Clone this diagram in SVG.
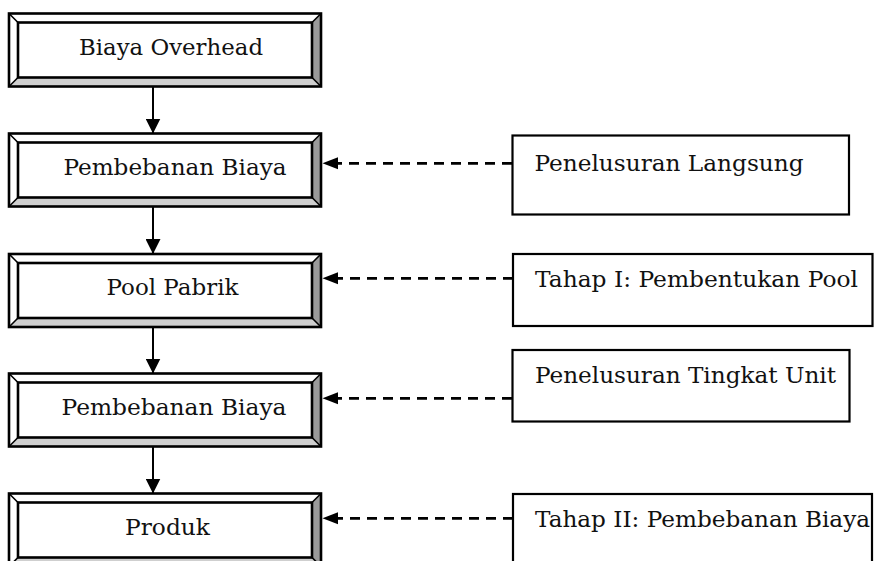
<svg xmlns="http://www.w3.org/2000/svg" xmlns:xlink="http://www.w3.org/1999/xlink" width="874" height="561" viewBox="0 0 874 561">
  <style>
    .lbl { font-family: "DejaVu Serif", "Liberation Serif", serif; font-size: 22px; fill: #111; }
    .note { fill: #fff; stroke: #000; stroke-width: 2.2; }
    .flow { stroke: #000; stroke-width: 2; fill: none; }
    .dash { stroke: #000; stroke-width: 2.8; stroke-dasharray: 10 7; fill: none; }
  </style>
  <defs>
    <!-- raised bevel frame, 312 x 73 -->
    <g id="bevel">
      <rect x="0" y="0" width="312" height="73" fill="#fff"/>
      <polygon points="0,73 312,73 303,64 9,64" fill="#cfcfcf"/>
      <polygon points="312,0 312,73 303,64 303,9" fill="#9a9a9a"/>
      <rect x="9" y="9" width="294" height="55" fill="#fff" stroke="#000" stroke-width="2.6"/>
      <g stroke="#000" stroke-width="1.6">
        <line x1="0" y1="0" x2="9" y2="9"/>
        <line x1="312" y1="0" x2="303" y2="9"/>
        <line x1="0" y1="73" x2="9" y2="64"/>
        <line x1="312" y1="73" x2="303" y2="64"/>
      </g>
      <rect x="0" y="0" width="312" height="73" fill="none" stroke="#000" stroke-width="2.6"/>
    </g>
    <marker id="head" viewBox="0 0 15 15" refX="15" refY="7.5" markerWidth="15" markerHeight="15" markerUnits="userSpaceOnUse" orient="auto">
      <path d="M0,0 L15,7.5 L0,15 Z" fill="#000"/>
    </marker>
  </defs>

  <!-- connectors -->
  <g id="connectors">
    <line class="flow" x1="153" y1="87" x2="153" y2="133.5" marker-end="url(#head)"/>
    <line class="flow" x1="153" y1="207" x2="153" y2="254" marker-end="url(#head)"/>
    <line class="flow" x1="153" y1="327" x2="153" y2="373.5" marker-end="url(#head)"/>
    <line class="flow" x1="153" y1="447" x2="153" y2="493.5" marker-end="url(#head)"/>
    <line class="dash" x1="512" y1="163.3" x2="336" y2="163.3"/>
    <polygon points="322.5,163.3 338,157.3 338,169.3" fill="#000"/>
    <line class="dash" x1="513" y1="278.3" x2="336" y2="278.3"/>
    <polygon points="322.5,278.3 338,272.3 338,284.3" fill="#000"/>
    <line class="dash" x1="512" y1="398.3" x2="336" y2="398.3"/>
    <polygon points="322.5,398.3 338,392.3 338,404.3" fill="#000"/>
    <line class="dash" x1="513" y1="518.3" x2="336" y2="518.3"/>
    <polygon points="322.5,518.3 338,512.3 338,524.3" fill="#000"/>
  </g>

  <!-- flow chain -->
  <g id="biaya-overhead">
    <use xlink:href="#bevel" x="9" y="13.5"/>
    <text class="lbl" x="79" y="55" textLength="184" lengthAdjust="spacingAndGlyphs">Biaya Overhead</text>
  </g>
  <g id="pembebanan-biaya-1">
    <use xlink:href="#bevel" x="9" y="133.5"/>
    <text class="lbl" x="63.5" y="175" textLength="223" lengthAdjust="spacingAndGlyphs">Pembebanan Biaya</text>
  </g>
  <g id="pool-pabrik">
    <use xlink:href="#bevel" x="9" y="254"/>
    <text class="lbl" x="106.5" y="295" textLength="132" lengthAdjust="spacingAndGlyphs">Pool Pabrik</text>
  </g>
  <g id="pembebanan-biaya-2">
    <use xlink:href="#bevel" x="9" y="373.5"/>
    <text class="lbl" x="61.5" y="415" textLength="225" lengthAdjust="spacingAndGlyphs">Pembebanan Biaya</text>
  </g>
  <g id="produk">
    <use xlink:href="#bevel" x="9" y="493.5"/>
    <text class="lbl" x="125" y="535" textLength="85" lengthAdjust="spacingAndGlyphs">Produk</text>
  </g>

  <!-- side notes -->
  <g id="penelusuran-langsung">
    <rect class="note" x="512.5" y="135.5" width="336.5" height="79"/>
    <text class="lbl" x="534.5" y="171.3" textLength="269" lengthAdjust="spacingAndGlyphs">Penelusuran Langsung</text>
  </g>
  <g id="tahap-1">
    <rect class="note" x="513" y="254" width="359.5" height="72"/>
    <text class="lbl" x="535" y="286.7" textLength="323" lengthAdjust="spacingAndGlyphs">Tahap I: Pembentukan Pool</text>
  </g>
  <g id="penelusuran-tingkat-unit">
    <rect class="note" x="512.5" y="350" width="337" height="71.5"/>
    <text class="lbl" x="535" y="383.3" textLength="301" lengthAdjust="spacingAndGlyphs">Penelusuran Tingkat Unit</text>
  </g>
  <g id="tahap-2">
    <rect class="note" x="513" y="494" width="359" height="80"/>
    <text class="lbl" x="535" y="526.7" textLength="335" lengthAdjust="spacingAndGlyphs">Tahap II: Pembebanan Biaya</text>
  </g>
</svg>
